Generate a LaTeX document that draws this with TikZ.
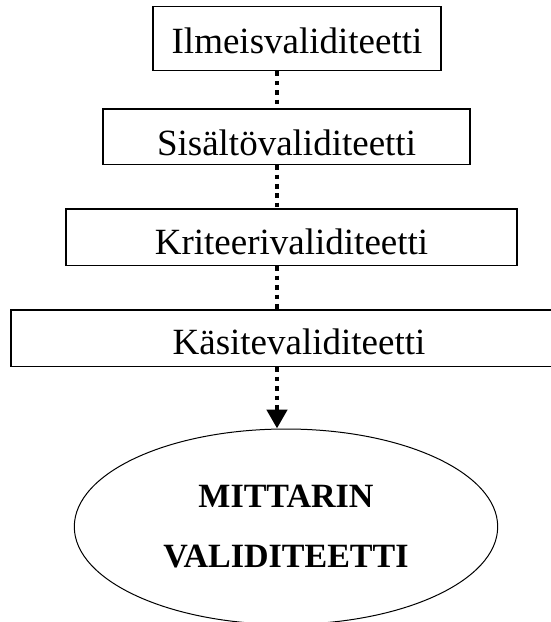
\documentclass[tikz,border=0pt]{standalone}
\usepackage{fontspec}
\setmainfont{Liberation Serif}
\usetikzlibrary{arrows.meta,positioning,shapes.geometric}
\tikzset{
  vbox/.style={draw, line width=1.3pt, rectangle, inner sep=0pt, text height=30pt, text depth=0pt, font=\fontsize{37}{44}\selectfont},
  vlink/.style={line width=4.7pt, dash pattern=on 4.7pt off 4.7pt, draw=black},
  vell/.style={draw, ellipse, line width=1pt, inner sep=0pt, align=center, font=\fontsize{34}{60}\selectfont\bfseries},
}
\begin{document}
\begin{tikzpicture}[x=1pt,y=-1pt]
    \useasboundingbox (0,0) rectangle (550,622);
    \coordinate (axis) at (277,0);
    \node[vbox, minimum width=288pt, minimum height=64pt, text height=29pt] (ilme) at (297,38.7) {Ilmeisvaliditeetti};
    \node[vbox, minimum width=367pt, minimum height=55.5pt, text height=38pt] (sisa) at (286.5,136.7) {Sisältövaliditeetti};
    \node[vbox, minimum width=451pt, minimum height=56.7pt, text height=35pt] (krit) at (291.5,237.3) {Kriteerivaliditeetti};
    \node[vbox, minimum width=576pt, minimum height=56.7pt, text height=33pt] (kasi) at (299,338.3) {Käsitevaliditeetti};
    \node[vell, minimum width=423.4pt, minimum height=195.4pt] (mitt) at (286,526.7) {MITTARIN\\VALIDITEETTI};
    \draw[vlink] (ilme.south -| axis) -- (sisa.north -| axis);
    \draw[vlink] (sisa.south -| axis) -- (krit.north -| axis);
    \draw[vlink] (krit.south -| axis) -- (kasi.north -| axis);
    \draw[vlink, -{Triangle[width=20pt,length=19pt]}] (kasi.south -| axis) -- (mitt.north -| axis);
\end{tikzpicture}
\end{document}
